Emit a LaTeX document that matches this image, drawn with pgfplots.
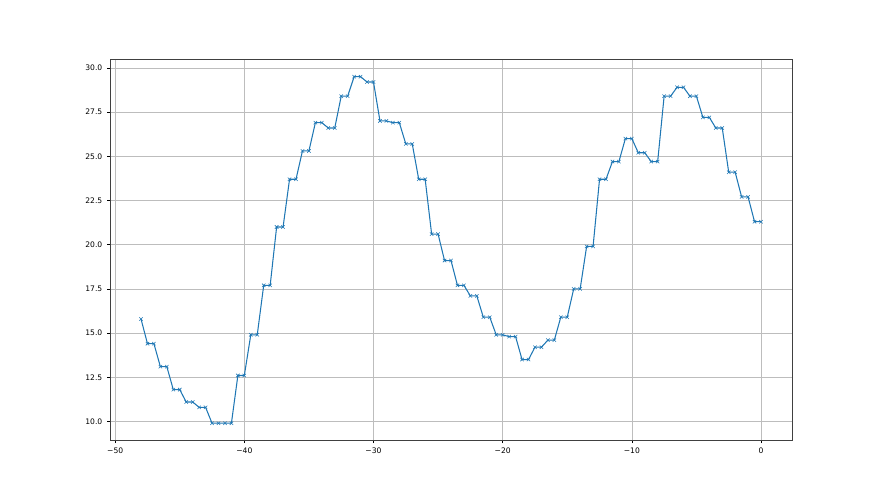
\documentclass[border=0pt]{standalone}
\usepackage{pgfplots}
\pgfplotsset{compat=1.18}
\usepackage{fontspec}
\setmainfont{DejaVu Sans}
\definecolor{mplblue}{HTML}{1F77B4}
\definecolor{gridgray}{HTML}{BDBDBD}
\begin{document}
\begin{tikzpicture}
\begin{axis}[
  scale only axis,
  width=682pt, height=381.15pt,
  xmin=-50.4, xmax=2.4, ymin=8.92, ymax=30.48,
  xtick={-50,-40,-30,-20,-10,0},
  xticklabels={−50,−40,−30,−20,−10,0},
  ytick={10,12.5,15,17.5,20,22.5,25,27.5,30},
  yticklabel style={/pgf/number format/.cd,fixed,fixed zerofill,precision=1,assume math mode=true},
  tick label style={font=\fontsize{7.6}{9}\selectfont, text=black},
  tick align=outside, tick pos=left,
  major tick length=2.7pt,
  every tick/.style={black, line width=0.6pt},
  axis line style={line width=0.6pt, black!75},
  grid=major,
  major grid style={gridgray, line width=0.6pt},
  xticklabel shift=1.5pt, yticklabel shift=1.5pt,
]
\addplot[mplblue, line width=1.05pt, mark=x, mark size=2.4pt, mark options={line width=0.55pt}] coordinates {
(-48,15.8)
(-47.5,14.4)(-47,14.4)
(-46.5,13.1)(-46,13.1)
(-45.5,11.8)(-45,11.8)
(-44.5,11.1)(-44,11.1)
(-43.5,10.8)(-43,10.8)
(-42.5,9.9)(-42,9.9)
(-41.5,9.9)(-41,9.9)
(-40.5,12.6)(-40,12.6)
(-39.5,14.9)(-39,14.9)
(-38.5,17.7)(-38,17.7)
(-37.5,21.0)(-37,21.0)
(-36.5,23.7)(-36,23.7)
(-35.5,25.3)(-35,25.3)
(-34.5,26.9)(-34,26.9)
(-33.5,26.6)(-33,26.6)
(-32.5,28.4)(-32,28.4)
(-31.5,29.5)(-31,29.5)
(-30.5,29.2)(-30,29.2)
(-29.5,27.0)(-29,27.0)
(-28.5,26.9)(-28,26.9)
(-27.5,25.7)(-27,25.7)
(-26.5,23.7)(-26,23.7)
(-25.5,20.6)(-25,20.6)
(-24.5,19.1)(-24,19.1)
(-23.5,17.7)(-23,17.7)
(-22.5,17.1)(-22,17.1)
(-21.5,15.9)(-21,15.9)
(-20.5,14.9)(-20,14.9)
(-19.5,14.8)(-19,14.8)
(-18.5,13.5)(-18,13.5)
(-17.5,14.2)(-17,14.2)
(-16.5,14.6)(-16,14.6)
(-15.5,15.9)(-15,15.9)
(-14.5,17.5)(-14,17.5)
(-13.5,19.9)(-13,19.9)
(-12.5,23.7)(-12,23.7)
(-11.5,24.7)(-11,24.7)
(-10.5,26.0)(-10,26.0)
(-9.5,25.2)(-9,25.2)
(-8.5,24.7)(-8,24.7)
(-7.5,28.4)(-7,28.4)
(-6.5,28.9)(-6,28.9)
(-5.5,28.4)(-5,28.4)
(-4.5,27.2)(-4,27.2)
(-3.5,26.6)(-3,26.6)
(-2.5,24.1)(-2,24.1)
(-1.5,22.7)(-1,22.7)
(-0.5,21.3)(0,21.3)
};
\end{axis}
\path ([shift={(-110pt,-54.45pt)}]current axis.south west) rectangle ([shift={(88pt,59.4pt)}]current axis.north east);
\end{tikzpicture}
\end{document}
